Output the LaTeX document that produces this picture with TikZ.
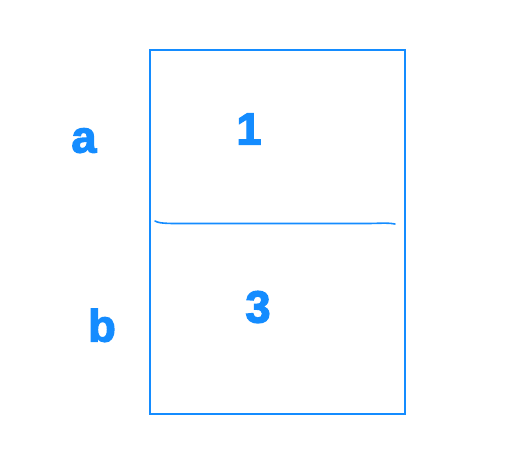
\documentclass[tikz,border=0pt]{standalone}
\usepackage{fontspec}
\setmainfont{Liberation Sans}
\newfontfamily\lblfont{Liberation Sans Bold}[FakeBold=3]
\definecolor{ablue}{RGB}{20,140,255}
\begin{document}
\begin{tikzpicture}[x=1pt,y=-1pt,
  lbl/.style={font=\fontsize{45}{48}\selectfont\lblfont, text=ablue, anchor=base, inner sep=0pt},
  frame/.style={draw=ablue, line width=1.2pt}]
\useasboundingbox (0,0) rectangle (512,464);
\node[frame, minimum width=255pt, minimum height=364pt, inner sep=0pt] (box) at (277.5,232) {};
\coordinate (l1) at (155,221);
\coordinate (l2) at (395,224);
\draw[draw=ablue, line width=1.6pt, line cap=round] (l1) .. controls (160,224) and (170,223.5) .. (200,223.5) -- (370,223.5) .. controls (385,223) and (390,223) .. (l2);
\node[lbl] (ta) at (84,152.5) {a};
\node[lbl] (t1) at (249,144.5) {1};
\node[lbl] (tb) at (102,341.5) {b};
\node[lbl] (t3) at (258,322.5) {3};
\end{tikzpicture}
\end{document}
